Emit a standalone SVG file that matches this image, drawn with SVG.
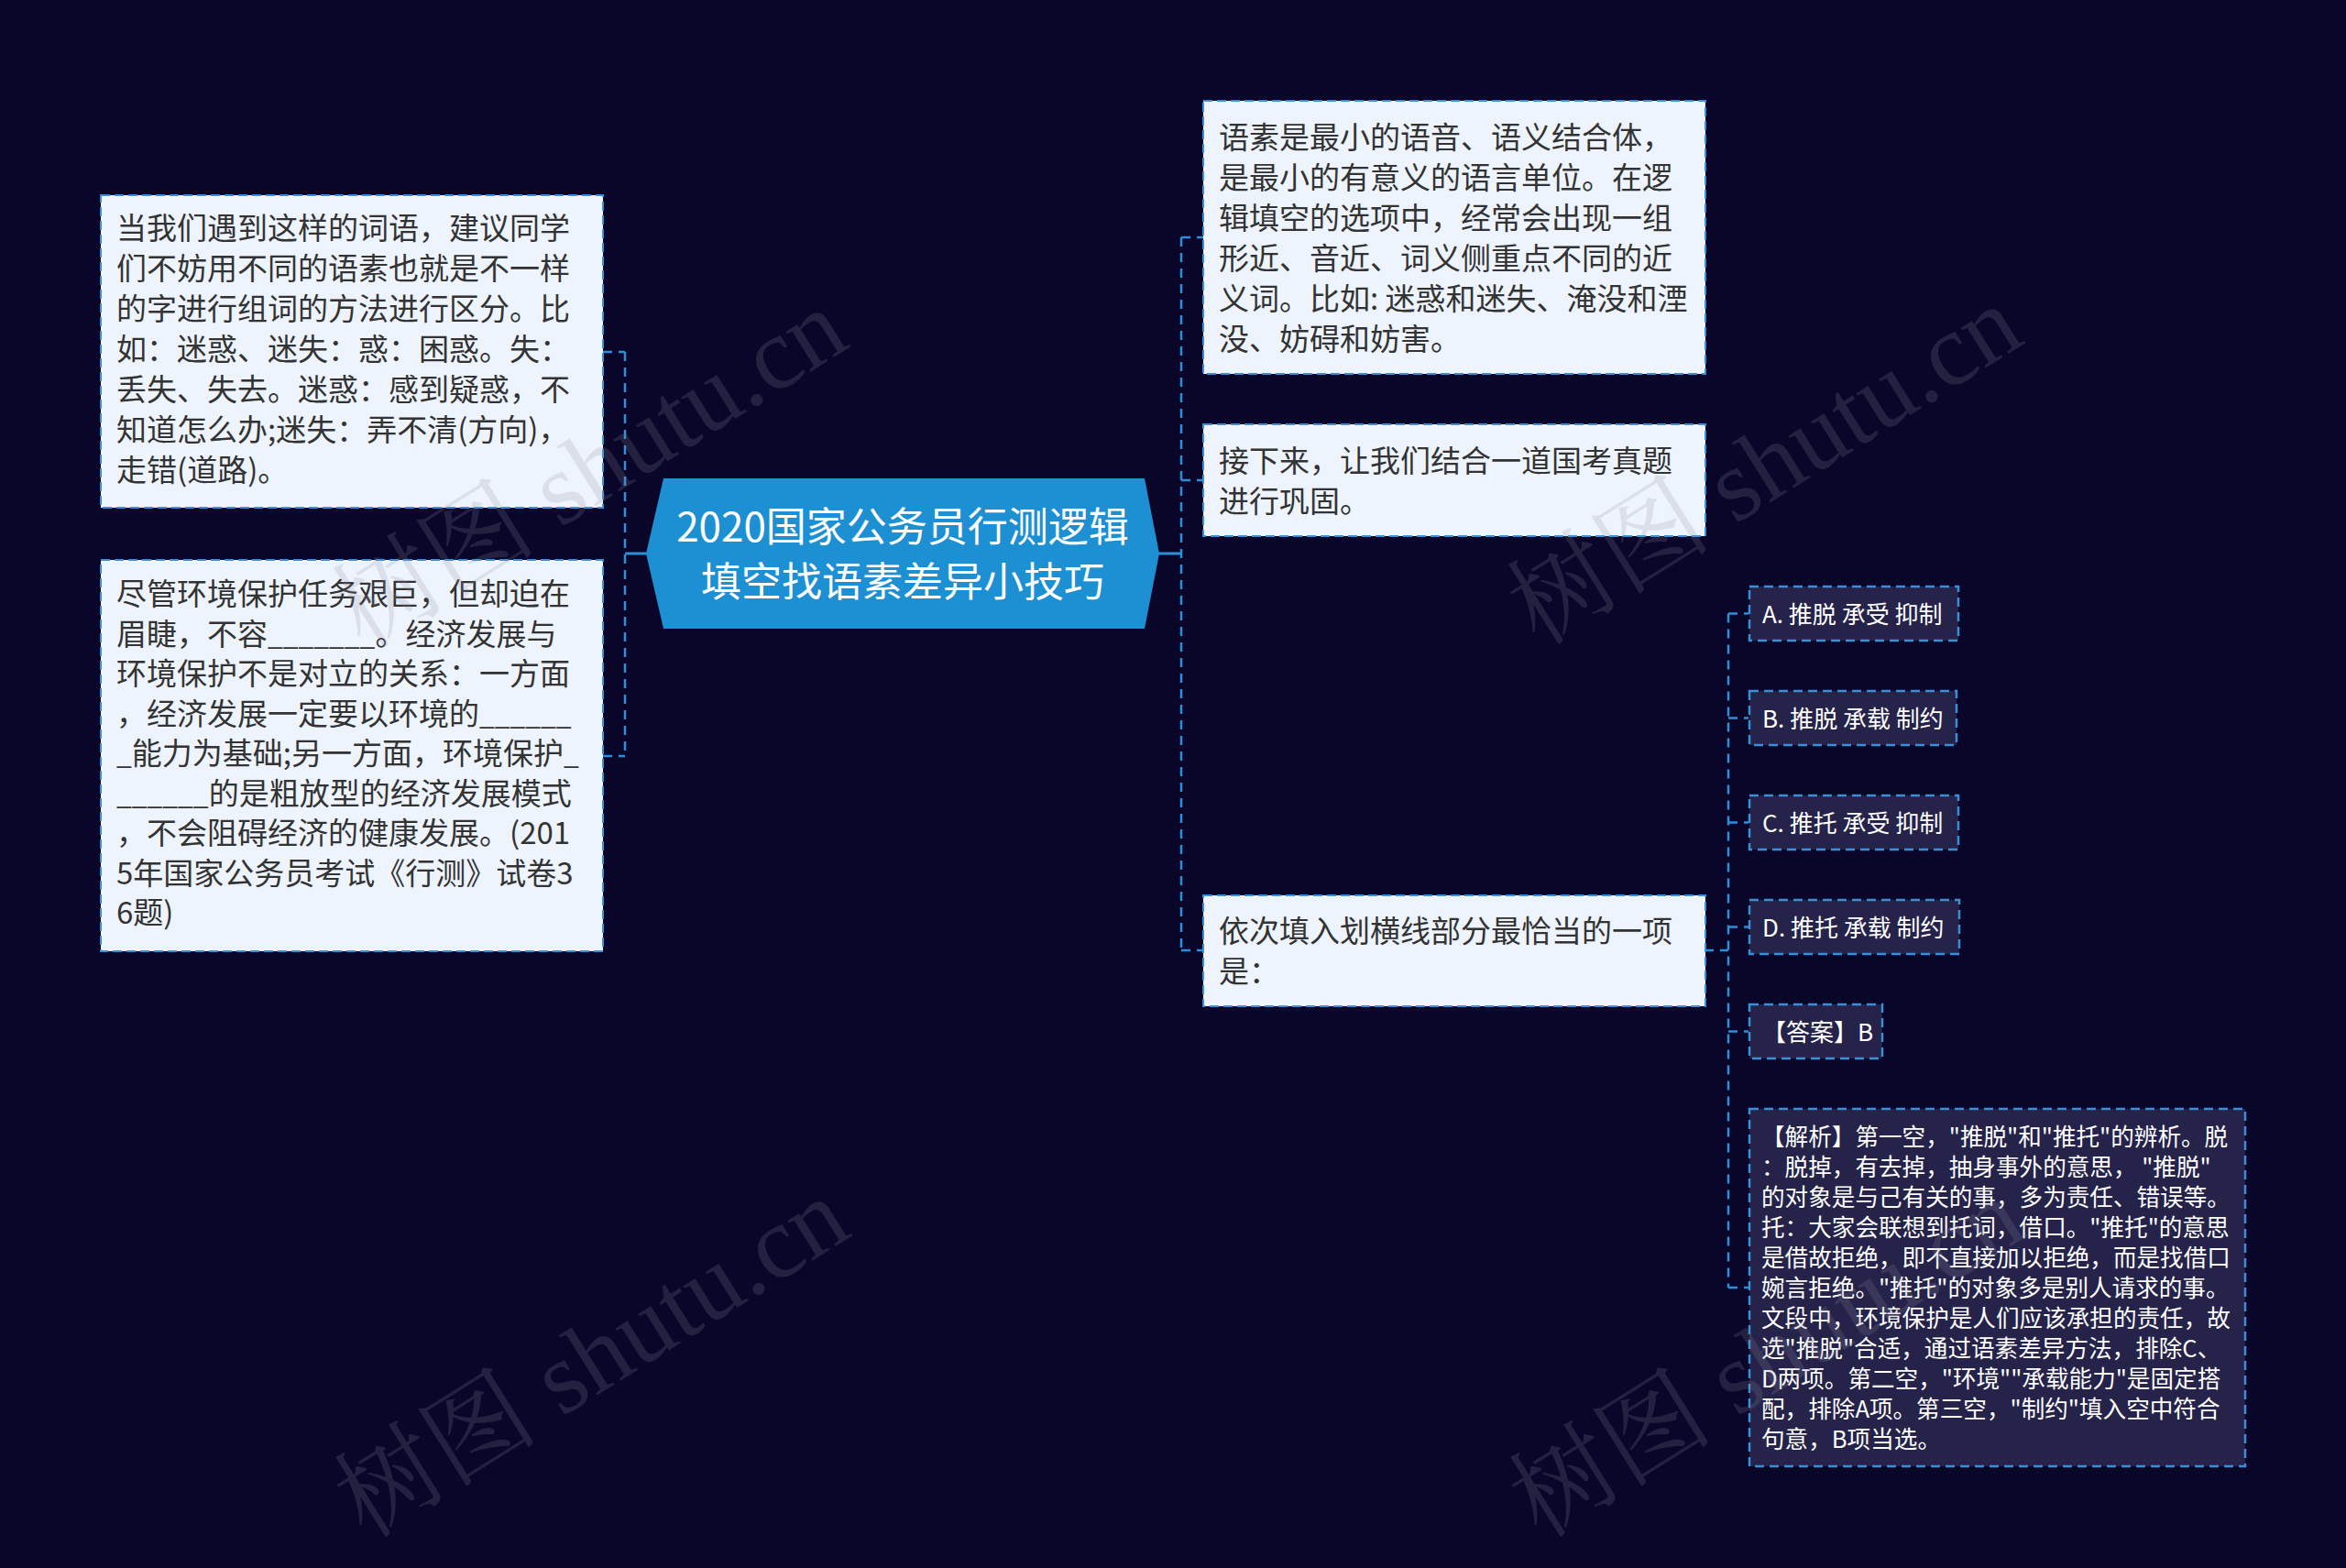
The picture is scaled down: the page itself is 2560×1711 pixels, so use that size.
<svg xmlns="http://www.w3.org/2000/svg" width="2560" height="1711" viewBox="0 0 2560 1711">
<style>
.bg{fill:#0a0629}
.lbox{fill:#eef4fd;stroke:#3a8fd6;stroke-width:2;stroke-dasharray:10 5}
.dbox{fill:#25234a;stroke:#3a8fd6;stroke-width:2.5;stroke-dasharray:10 6}
.ltxt{font-family:"Noto Sans CJK SC","Noto Sans",sans-serif;font-size:33px;fill:#333333}
.us{font-size:30px}
.otxt{font-family:"Noto Sans CJK SC","Noto Sans",sans-serif;font-size:26px;fill:#ffffff}
.atxt{font-family:"Noto Sans CJK SC","Noto Sans",sans-serif;font-size:25.6px;fill:#ffffff}
.ctxt{font-family:"Noto Sans CJK SC","Noto Sans",sans-serif;font-size:44px;fill:#ffffff;text-anchor:middle}
.con{fill:none;stroke:#2e8fd8;stroke-width:2.5;stroke-dasharray:10 7}
.cons{fill:none;stroke:#2e8fd8;stroke-width:3}
.wm{font-family:"Liberation Serif","Noto Serif CJK SC","Noto Sans CJK SC",serif;font-size:112px;fill:#8a8ea0;fill-opacity:0.2}
</style>
<rect class="bg" x="0" y="0" width="2560" height="1711"/>

<g id="connectors">
  <path class="con" d="M682 384 V825 M658 384 H682 M658 825 H682"/>
  <path class="cons" d="M682 604 H706"/>
  <path class="con" d="M1289 259 V1037 M1289 259 H1313 M1289 524 H1313 M1289 1037 H1313"/>
  <path class="cons" d="M1264 604 H1289"/>
  <path class="con" d="M1886 669.5 V1405 M1860 1037 H1886 M1886 669.5 H1908 M1886 783.5 H1908 M1886 897.5 H1908 M1886 1011.5 H1908 M1886 1125.5 H1908 M1886 1405 H1908"/>
</g>

<g id="root">
  <polygon points="705,604 724,522 1249,522 1265,604 1249,686 724,686" fill="#1d8fd3"/>
  <text class="ctxt"><tspan x="985" y="591">2020国家公务员行测逻辑</tspan><tspan x="985" y="651">填空找语素差异小技巧</tspan></text>
</g>

<g id="left1">
  <rect class="lbox" x="110" y="213" width="548" height="341"/>
  <text class="ltxt">
    <tspan x="127" y="261">当我们遇到这样的词语，建议同学</tspan>
    <tspan x="127" y="305">们不妨用不同的语素也就是不一样</tspan>
    <tspan x="127" y="349">的字进行组词的方法进行区分。比</tspan>
    <tspan x="127" y="393">如：迷惑、迷失：惑：困惑。失：</tspan>
    <tspan x="127" y="437">丢失、失去。迷惑：感到疑惑，不</tspan>
    <tspan x="127" y="481">知道怎么办;迷失：弄不清(方向)，</tspan>
    <tspan x="127" y="525">走错(道路)。</tspan>
  </text>
</g>

<g id="left2">
  <rect class="lbox" x="110" y="611" width="548" height="427"/>
  <text class="ltxt">
    <tspan x="127" y="660">尽管环境保护任务艰巨，但却迫在</tspan>
    <tspan x="127" y="703.5">眉睫，不容<tspan class="us">_______</tspan>。经济发展与</tspan>
    <tspan x="127" y="747">环境保护不是对立的关系：一方面</tspan>
    <tspan x="127" y="790.5">，经济发展一定要以环境的<tspan class="us">______</tspan></tspan>
    <tspan x="127" y="834"><tspan class="us">_</tspan>能力为基础;另一方面，环境保护<tspan class="us">_</tspan></tspan>
    <tspan x="127" y="877.5"><tspan class="us">______</tspan>的是粗放型的经济发展模式</tspan>
    <tspan x="127" y="921">，不会阻碍经济的健康发展。(201</tspan>
    <tspan x="127" y="964.5">5年国家公务员考试《行测》试卷3</tspan>
    <tspan x="127" y="1008">6题)</tspan>
  </text>
</g>

<g id="right1">
  <rect class="lbox" x="1313" y="110" width="548" height="298"/>
  <text class="ltxt">
    <tspan x="1330" y="161.5">语素是最小的语音、语义结合体，</tspan>
    <tspan x="1330" y="205.5">是最小的有意义的语言单位。在逻</tspan>
    <tspan x="1330" y="249.5">辑填空的选项中，经常会出现一组</tspan>
    <tspan x="1330" y="293.5">形近、音近、词义侧重点不同的近</tspan>
    <tspan x="1330" y="337.5">义词。比如: 迷惑和迷失、淹没和湮</tspan>
    <tspan x="1330" y="381.5">没、妨碍和妨害。</tspan>
  </text>
</g>

<g id="right2">
  <rect class="lbox" x="1313" y="463" width="548" height="122"/>
  <text class="ltxt">
    <tspan x="1330" y="514.5">接下来，让我们结合一道国考真题</tspan>
    <tspan x="1330" y="558.5">进行巩固。</tspan>
  </text>
</g>

<g id="right3">
  <rect class="lbox" x="1313" y="977" width="548" height="121"/>
  <text class="ltxt">
    <tspan x="1330" y="1028">依次填入划横线部分最恰当的一项</tspan>
    <tspan x="1330" y="1072">是：</tspan>
  </text>
</g>

<g id="optA">
  <rect class="dbox" x="1909" y="640" width="228" height="59"/>
  <text class="otxt" x="1923" y="679.5">A. 推脱 承受 抑制</text>
</g>
<g id="optB">
  <rect class="dbox" x="1909" y="754" width="226" height="59"/>
  <text class="otxt" x="1923" y="793.5">B. 推脱 承载 制约</text>
</g>
<g id="optC">
  <rect class="dbox" x="1909" y="868" width="228" height="59"/>
  <text class="otxt" x="1923" y="907.5">C. 推托 承受 抑制</text>
</g>
<g id="optD">
  <rect class="dbox" x="1909" y="982" width="229" height="59"/>
  <text class="otxt" x="1923" y="1021.5">D. 推托 承载 制约</text>
</g>
<g id="answer">
  <rect class="dbox" x="1909" y="1096" width="145" height="59"/>
  <text class="otxt" x="1923" y="1135.5">【答案】B</text>
</g>
<g id="analysis">
  <rect class="dbox" x="1909" y="1210" width="541" height="390"/>
  <text class="atxt">
    <tspan x="1922" y="1250">【解析】第一空，"推脱"和"推托"的辨析。脱</tspan>
    <tspan x="1922" y="1283">：脱掉，有去掉，抽身事外的意思， "推脱"</tspan>
    <tspan x="1922" y="1316">的对象是与己有关的事，多为责任、错误等。</tspan>
    <tspan x="1922" y="1349">托：大家会联想到托词，借口。"推托"的意思</tspan>
    <tspan x="1922" y="1382">是借故拒绝，即不直接加以拒绝，而是找借口</tspan>
    <tspan x="1922" y="1415">婉言拒绝。"推托"的对象多是别人请求的事。</tspan>
    <tspan x="1922" y="1448">文段中，环境保护是人们应该承担的责任，故</tspan>
    <tspan x="1922" y="1481">选"推脱"合适，通过语素差异方法，排除C、</tspan>
    <tspan x="1922" y="1514">D两项。第二空，"环境""承载能力"是固定搭</tspan>
    <tspan x="1922" y="1547">配，排除A项。第三空，"制约"填入空中符合</tspan>
    <tspan x="1922" y="1580">句意，B项当选。</tspan>
  </text>
</g>

<g id="watermarks">
  <text class="wm" transform="translate(650,522) rotate(-32)" text-anchor="middle" dominant-baseline="middle">树图 shutu.cn</text>
  <text class="wm" transform="translate(1932,518) rotate(-32)" text-anchor="middle" dominant-baseline="middle">树图 shutu.cn</text>
  <text class="wm" transform="translate(652,1492) rotate(-32)" text-anchor="middle" dominant-baseline="middle">树图 shutu.cn</text>
  <text class="wm" transform="translate(1934,1492) rotate(-32)" text-anchor="middle" dominant-baseline="middle">树图 shutu.cn</text>
</g>
</svg>
